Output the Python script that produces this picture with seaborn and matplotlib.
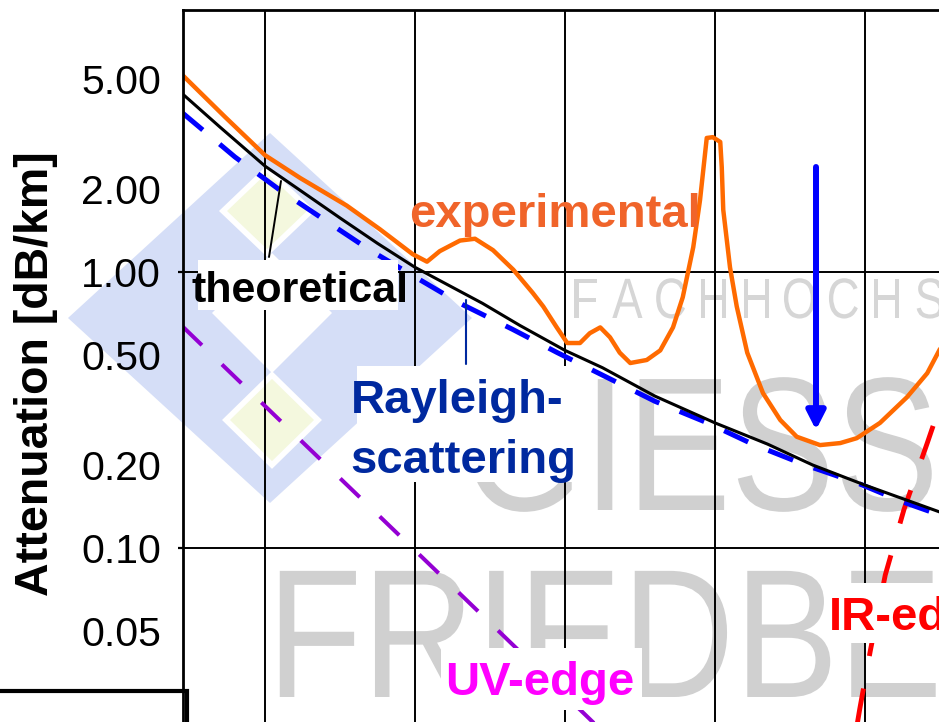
import matplotlib
matplotlib.use("Agg")
import matplotlib.pyplot as plt
import seaborn as sns
import pandas as pd
from matplotlib.patches import Polygon, Rectangle, FancyArrowPatch
from matplotlib.lines import Line2D
from matplotlib.ticker import FixedLocator, FixedFormatter
from matplotlib.patheffects import AbstractPathEffect
from matplotlib.transforms import Affine2D

# ---------------- data (wavelength in um, attenuation in dB/km) ----------------
exp_wl = [0.69, 0.747, 0.80, 0.847, 0.909, 0.953, 0.997, 1.016, 1.033, 1.06, 1.08, 1.104,
          1.131, 1.157, 1.171, 1.189, 1.203, 1.22, 1.233, 1.247, 1.26, 1.273, 1.287, 1.309,
          1.327, 1.344, 1.357, 1.371, 1.38, 1.389, 1.397, 1.407, 1.409, 1.411, 1.42, 1.429,
          1.443, 1.464, 1.487, 1.509, 1.54, 1.567, 1.589, 1.62, 1.656, 1.683, 1.699, 1.719]
exp_att = [5.17, 3.64, 2.65, 2.19, 1.74, 1.43, 1.16, 1.09, 1.19, 1.30, 1.32, 1.20,
           1.02, 0.84, 0.75, 0.63, 0.553, 0.553, 0.60, 0.63, 0.58, 0.51, 0.468, 0.48,
           0.52, 0.63, 0.81, 1.23, 1.82, 3.06, 3.08, 2.96, 2.40, 1.68, 1.04, 0.75,
           0.51, 0.364, 0.291, 0.253, 0.236, 0.240, 0.250, 0.284, 0.352, 0.43, 0.52, 0.66]

theo_wl = [0.69, 0.74, 0.80, 0.85, 0.90, 0.95, 1.00, 1.05, 1.09, 1.14, 1.20, 1.25,
           1.32, 1.40, 1.47, 1.53, 1.60, 1.72]
theo_att = [4.42, 3.35, 2.42, 1.95, 1.57, 1.27, 1.04, 0.88, 0.77, 0.64, 0.52, 0.45,
            0.355, 0.284, 0.238, 0.20, 0.169, 0.129]

ray_wl = [0.69, 0.76, 0.82, 0.88, 0.94, 1.00, 1.06, 1.13, 1.19, 1.26, 1.32, 1.39,
          1.45, 1.52, 1.59, 1.65, 1.72]
ray_att = [3.77, 2.61, 1.98, 1.54, 1.20, 0.96, 0.77, 0.62, 0.51, 0.41, 0.34, 0.284,
           0.238, 0.200, 0.172, 0.147, 0.126]

uv_wl = [0.69, 0.80, 0.90, 1.00, 1.10, 1.20, 1.30]
uv_att = [0.635, 0.327, 0.179, 0.098, 0.0536, 0.0293, 0.0160]

ir_wl = [1.577, 1.593, 1.607, 1.627, 1.652, 1.683, 1.713]
ir_att = [0.0144, 0.0261, 0.0423, 0.0798, 0.138, 0.240, 0.416]

grid_wl = [0.8, 1.0, 1.2, 1.4, 1.6, 1.8]
major_vals = [0.01, 0.1, 1, 10]
major_labels = ["0.01", "0.10", "1.00", "10.00"]
minor_vals = [0.02, 0.05, 0.2, 0.5, 2, 5]
minor_labels = ["0.02", "0.05", "0.20", "0.50", "2.00", "5.00"]

# ---------------- style ----------------
sns.set_style("white")
plt.rcParams["font.family"] = ["Liberation Sans", "DejaVu Sans"]

W, H = 939, 722
fig = plt.figure(figsize=(W / 100, H / 100), dpi=100, facecolor="white")


def F(x, y):
    return (x / W, 1 - y / H)


class HStretch(AbstractPathEffect):
    """Draw text narrower (horizontal scale about the text origin)."""

    def __init__(self, sx):
        super().__init__()
        self.sx = sx

    def draw_path(self, renderer, gc, tpath, affine, rgbFace=None):
        ox, oy = affine.transform((0, 0))
        aff = affine + Affine2D().translate(-ox, -oy).scale(self.sx, 1).translate(ox, oy)
        renderer.draw_path(gc, tpath, aff, rgbFace)


# axes: left edge at px 182.5, top at px 10; extends past the right / bottom of the picture
ax = fig.add_axes([182.5 / W, (H - 824) / H, (1015 - 182.5) / W, (824 - 10) / H])
ax.set_facecolor("none")

# ---------------- background logo + watermark ----------------
def diamond(cx, cy, hw, hh, **kw):
    pts = [F(cx - hw, cy), F(cx, cy - hh), F(cx + hw, cy), F(cx, cy + hh)]
    return Polygon(pts, closed=True, transform=fig.transFigure, **kw)

fig.add_artist(diamond(270, 318, 202, 185, facecolor="#D5DEF7", edgecolor="none", zorder=-4))
fig.add_artist(diamond(272, 313, 60, 60, facecolor="white", edgecolor="none", zorder=-3.9))
fig.add_artist(diamond(267, 211, 44, 42, facecolor="#F4F8DE", edgecolor="white", lw=4, zorder=-3.8))
fig.add_artist(diamond(272, 420, 46, 45, facecolor="#F4F8DE", edgecolor="white", lw=4, zorder=-3.8))

for i, ch in enumerate("FACHHOCHSCHULE"):
    fig.text(*F(588 + 43.2 * i, 318), ch, fontsize=41, color="#D6D6D6",
             ha="center", va="baseline", zorder=-2, path_effects=[HStretch(0.8)])
fig.text(*F(462, 510), "GIESSEN", fontsize=137, color="#D0D0D0",
         ha="left", va="baseline", zorder=-2, path_effects=[HStretch(0.82)])
fig.text(*F(267, 697), "FRIEDBERG", fontsize=132, color="#D0D0D0",
         ha="left", va="baseline", zorder=-2, path_effects=[HStretch(0.85)])

# bottom-left framed box
fig.add_artist(Rectangle(F(-10, 760), 197 / W, 69 / H, transform=fig.transFigure,
                         facecolor="white", edgecolor="black", lw=3, zorder=-1))

# ---------------- curves ----------------
sns.lineplot(x=uv_wl, y=uv_att, ax=ax, color="#9400D3", lw=2.9, sort=False,
             estimator=None, linestyle=(0, (6.7, 6.9)), zorder=2)
sns.lineplot(x=ir_wl, y=ir_att, ax=ax, color="#FF0000", lw=3.5, sort=False,
             estimator=None, linestyle=(0, (7.2, 6.8)), zorder=2)
sns.lineplot(x=ray_wl, y=ray_att, ax=ax, color="#0000FF", lw=3.6, sort=False,
             estimator=None, linestyle=(0, (5.3, 4.4)), zorder=2.1)
sns.lineplot(x=theo_wl, y=theo_att, ax=ax, color="black", lw=2.2, sort=False,
             estimator=None, zorder=2.2)
sns.lineplot(x=exp_wl, y=exp_att, ax=ax, color="#FF6A00", lw=3.2, sort=False,
             estimator=None, zorder=2.3)

# ---------------- axes formatting ----------------
ax.set_yscale("log")
ax.set_xlim(0.69, 1.80)
ax.set_ylim(0.01, 8.899)
ax.set_xticks(grid_wl)
ax.tick_params(axis="x", length=0, labelbottom=False)
ax.yaxis.set_major_locator(FixedLocator(major_vals))
ax.yaxis.set_major_formatter(FixedFormatter(major_labels))
ax.yaxis.set_minor_locator(FixedLocator(minor_vals))
ax.yaxis.set_minor_formatter(FixedFormatter(minor_labels))
ax.tick_params(axis="y", which="major", length=3.5, width=1.6, direction="out",
               pad=12, labelsize=29.5, colors="black", left=True)
ax.tick_params(axis="y", which="minor", length=0, pad=15.5, labelsize=29.5,
               colors="black", left=True)
ax.grid(True, which="major", axis="both", color="black", lw=1.4)
ax.set_axisbelow(True)
for side in ["left", "top", "right", "bottom"]:
    ax.spines[side].set_color("black")
    ax.spines[side].set_linewidth(2.0)
ax.set_xlabel("")
ax.set_ylabel("Attenuation [dB/km]", fontsize=33.5, fontweight="bold", color="black")
ax.yaxis.label.set_verticalalignment("center")
ax.yaxis.set_label_coords((36 - 182.5) / 832.5, (824 - 374) / 814)

# ---------------- annotations ----------------
def box(x0, y0, x1, y1):
    fig.add_artist(Rectangle(F(x0, y1), (x1 - x0) / W, (y1 - y0) / H,
                             transform=fig.transFigure, facecolor="white",
                             edgecolor="none", zorder=3))

box(198, 260, 398, 310)
box(357, 366, 577, 482)
box(441, 648, 642, 710)
box(827, 583, 960, 643)

fig.add_artist(Line2D([269 / W, 281 / W], [1 - 257 / H, 1 - 181 / H], color="black",
                      lw=1.4, transform=fig.transFigure, zorder=4))
fig.add_artist(Line2D([466 / W, 466 / W], [1 - 300 / H, 1 - 364 / H], color="#00299F",
                      lw=1.5, transform=fig.transFigure, zorder=4))

fig.add_artist(FancyArrowPatch(F(816, 167), F(816, 430), transform=fig.transFigure,
                               arrowstyle="-|>,head_length=0.55,head_width=0.28",
                               mutation_scale=20, color="#0000FF", lw=4.3,
                               shrinkA=0, shrinkB=0, zorder=4))

fig.text(*F(409, 227), "experimental", color="#F0642A", fontsize=34,
         fontweight="bold", ha="left", va="baseline", zorder=5)
fig.text(*F(192, 302), "theoretical", color="black", fontsize=31,
         fontweight="bold", ha="left", va="baseline", zorder=5)
fig.text(*F(351, 413), "Rayleigh-", color="#00299F", fontsize=34,
         fontweight="bold", ha="left", va="baseline", zorder=5)
fig.text(*F(350, 473), "scattering", color="#00299F", fontsize=34,
         fontweight="bold", ha="left", va="baseline", zorder=5)
fig.text(*F(445, 695), "UV-edge", color="#FF00FF", fontsize=34,
         fontweight="bold", ha="left", va="baseline", zorder=5)
fig.text(*F(829, 630), "IR-edge", color="#FF0000", fontsize=34,
         fontweight="bold", ha="left", va="baseline", zorder=5)

fig.savefig("out.png", dpi=100, facecolor="white")
